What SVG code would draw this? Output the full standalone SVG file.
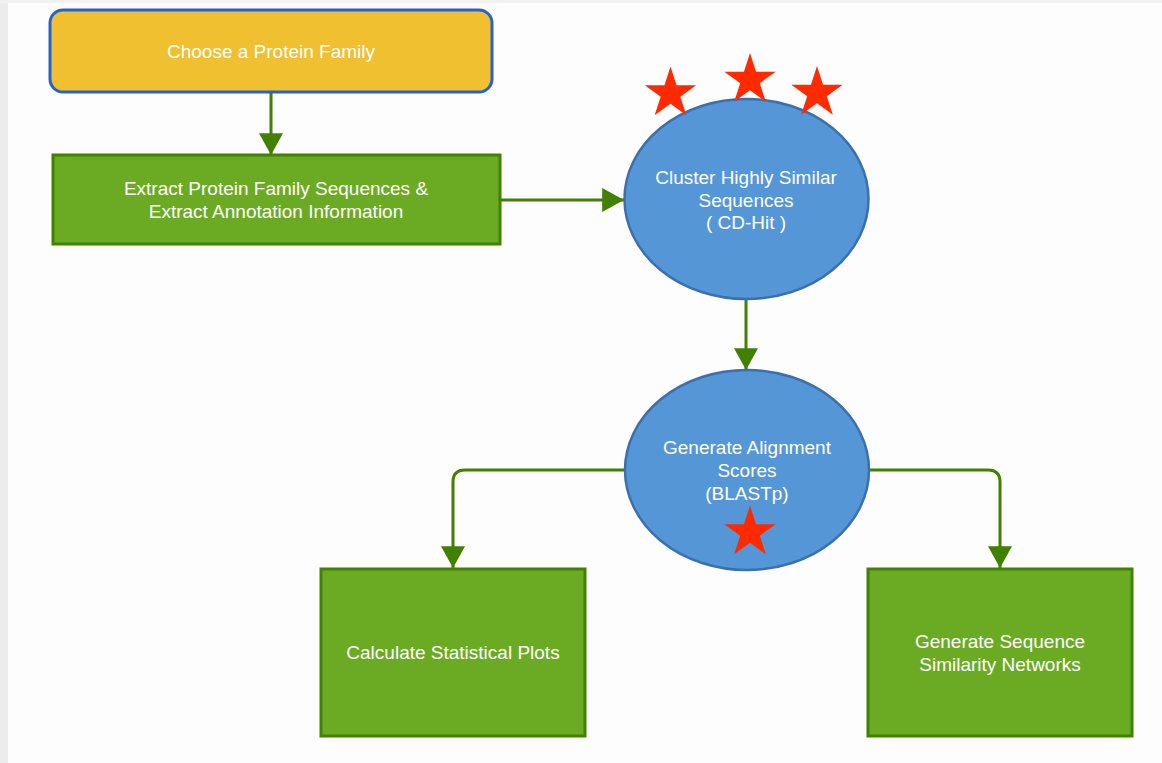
<svg xmlns="http://www.w3.org/2000/svg" width="1162" height="763" viewBox="0 0 1162 763">
  <style>
    .bg { fill: #fdfdfd; }
    .edge { fill: #ececec; }
    .start { fill: #f0c030; stroke: #2463cc; stroke-width: 3; }
    .step { fill: #6bab23; stroke: #428200; stroke-width: 3; }
    .tool { fill: #5596d6; stroke: #3b6fae; stroke-width: 2.5; }
    .star { fill: #ff2a00; }
    .link { fill: none; stroke: #418000; stroke-width: 3; marker-end: url(#arrow); }
    .label { fill: #ffffff; font-family: "Liberation Sans", Arial, sans-serif; font-size: 19px; text-anchor: middle; }
  </style>
  <defs>
    <marker id="arrow" markerUnits="userSpaceOnUse" markerWidth="24" markerHeight="24" viewBox="0 0 22 22" refX="20" refY="11" orient="auto">
      <path d="M0,0 L20,11 L0,22 Z" fill="#418000"/>
    </marker>
    <polygon id="starShape" points="0,-27 6.06,-8.34 25.68,-8.34 9.81,3.19 15.87,21.84 0,10.31 -15.87,21.84 -9.81,3.19 -25.68,-8.34 -6.06,-8.34"/>
  </defs>

  <!-- page background -->
  <rect class="bg" x="0" y="0" width="1162" height="763"/>
  <rect class="edge" x="0" y="0" width="8" height="763"/>
  <rect fill="#f2f2f2" x="0" y="0" width="1162" height="3"/>

  <!-- connectors -->
  <g id="connectors">
    <path class="link" d="M271,92 V155"/>
    <path class="link" d="M501,200 H624"/>
    <path class="link" d="M746,299 V370"/>
    <path class="link" d="M625,470 H465 Q453,470 453,482 V568"/>
    <path class="link" d="M869,470 H988 Q1000,470 1000,482 V568"/>
  </g>

  <g id="choose-family">
    <rect class="start" x="50" y="10" width="442" height="82" rx="13" ry="13"/>
    <text class="label" x="271" y="58">Choose a Protein Family</text>
  </g>

  <g id="extract-sequences">
    <rect class="step" x="53" y="155" width="447" height="89"/>
    <text class="label" x="276" y="195">Extract Protein Family Sequences &amp;</text>
    <text class="label" x="276" y="218">Extract Annotation Information</text>
  </g>

  <g id="cluster-sequences">
    <ellipse class="tool" cx="746.5" cy="199" rx="122" ry="100"/>
    <text class="label" x="746" y="184">Cluster Highly Similar</text>
    <text class="label" x="746" y="207">Sequences</text>
    <text class="label" x="746" y="229">( CD-Hit )</text>
    <use href="#starShape" class="star" x="670.5" y="93.5"/>
    <use href="#starShape" class="star" x="750" y="80"/>
    <use href="#starShape" class="star" x="817" y="93"/>
  </g>

  <g id="alignment-scores">
    <ellipse class="tool" cx="747" cy="470" rx="122" ry="100"/>
    <text class="label" x="747" y="454">Generate Alignment</text>
    <text class="label" x="747" y="477">Scores</text>
    <text class="label" x="747" y="500">(BLASTp)</text>
    <use href="#starShape" class="star" x="750" y="532.5"/>
  </g>

  <g id="statistical-plots">
    <rect class="step" x="321" y="569" width="264" height="167"/>
    <text class="label" x="453" y="659">Calculate Statistical Plots</text>
  </g>

  <g id="similarity-networks">
    <rect class="step" x="868" y="569" width="264" height="167"/>
    <text class="label" x="1000" y="648">Generate Sequence</text>
    <text class="label" x="1000" y="671">Similarity Networks</text>
  </g>
</svg>
